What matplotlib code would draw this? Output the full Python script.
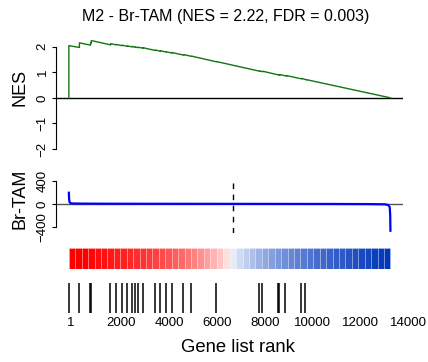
import numpy as np
import matplotlib.pyplot as plt
from matplotlib.colors import LinearSegmentedColormap, Normalize
from matplotlib.transforms import ScaledTranslation

plt.rcParams['font.family'] = ['Liberation Sans', 'DejaVu Sans']

title = 'M2 - Br-TAM (NES = 2.22, FDR = 0.003)'
n_genes = 13389
zero_cross = 6840

# ranks of the gene-set members in the ranked list
hit_ranks = [1, 440, 905, 935, 1743, 1964, 2215, 2444, 2633, 2758, 2884, 3093, 3606,
             3815, 4053, 4304, 4784, 5118, 6142, 7950, 8075, 8760, 8790, 9065, 9704, 9901]
# running NES just before and just after each hit
es_before = [0.00, 1.97, 2.06, 2.145, 2.07, 2.07, 2.04, 2.01, 1.99, 1.98, 1.96, 1.94, 1.85,
             1.82, 1.79, 1.75, 1.67, 1.62, 1.41, 1.04, 1.02, 0.89, 0.895, 0.85, 0.74, 0.70]
es_after = [2.04, 2.15, 2.15, 2.24, 2.12, 2.09, 2.06, 2.03, 2.01, 1.99, 1.98, 1.96, 1.87,
            1.84, 1.80, 1.77, 1.69, 1.63, 1.42, 1.05, 1.04, 0.90, 0.91, 0.87, 0.76, 0.71]

# ranking metric along the list
metric_rank = [1, 10, 30, 80, 200, 600, 1500, 3000, 5000, 6840, 9000, 11000, 12500,
               13150, 13300, 13360, 13380, 13389]
metric_value = [195, 90, 30, 10, 6, 4, 2.5, 1.5, 0.5, 0, -1, -2, -4, -8, -20, -60, -200, -470]

# colour strip levels (+1 = strongly up, -1 = strongly down)
strip_level = [1.0, 1.0, 1.0, 0.97, 0.95, 0.93, 0.90, 0.88, 0.86, 0.84, 0.82, 0.80, 0.77,
               0.74, 0.71, 0.67, 0.63, 0.59, 0.54, 0.49, 0.43, 0.37, 0.30, 0.22, 0.13,
               -0.10, -0.18, -0.25, -0.32, -0.38, -0.43, -0.48, -0.52, -0.56, -0.60, -0.63,
               -0.66, -0.69, -0.72, -0.75, -0.78, -0.80, -0.82, -0.85, -0.87, -0.90, -0.92,
               -0.95, -0.97, -1.0]

rank_ticks = [1, 2000, 4000, 6000, 8000, 10000, 12000, 14000]
nes_ticks = [-2, -1, 0, 1, 2]
metric_ticks = [-400, 0, 400]

W, H = 428, 362


def rect(x0, x1, top, bot):
    return [x0 / W, 1 - bot / H, (x1 - x0) / W, (bot - top) / H]


fig = plt.figure(figsize=(W / 100, H / 100), dpi=100)
ax_es = fig.add_axes(rect(56, 403.3, 36.0, 153.1))
ax_m = fig.add_axes(rect(56, 403.3, 178.3, 233.3))
ax_s = fig.add_axes(rect(56, 403.3, 248.3, 269.3))
ax_r = fig.add_axes(rect(56, 403.3, 283.3, 313.3))

pad = 0.04 * (n_genes - 1)
xlim = (1 - pad, n_genes + pad)
for ax in (ax_es, ax_m, ax_s, ax_r):
    ax.set_xlim(*xlim)
    for side in ('top', 'right', 'bottom'):
        ax.spines[side].set_visible(False)
    ax.tick_params(axis='x', length=0)

# running enrichment curve
xs, ys = [], []
for r, b, a in zip(hit_ranks, es_before, es_after):
    xs += [r, r]
    ys += [b, a]
xs.append(n_genes)
ys.append(0)
ax_es.axhline(0, color='black', lw=1.0)
ax_es.plot(xs, ys, color='#137513', lw=1.0)
ax_es.set_ylim(-2.16, 2.418)
ax_es.set_yticks(nes_ticks)
ax_es.spines['left'].set_bounds(-2, 2)
ax_es.set_xticks([])
ax_es.set_ylabel('NES', fontsize=13, va='center')
ax_es.yaxis.set_label_coords(-0.104, 0.56)

# ranking metric
ax_m.axhline(0, color='#555555', lw=1.0)
ax_m.plot(metric_rank, metric_value, color='#0000ff', lw=1.6)
ax_m.axvline(zero_cross, color='black', lw=1.0, ls=(0, (4, 4)))
ax_m.set_ylim(-515, 447)
ax_m.set_yticks(metric_ticks)
ax_m.spines['left'].set_bounds(-400, 400)
ax_m.set_xticks([])
ax_m.set_ylabel('Br-TAM', fontsize=13, va='center')
ax_m.yaxis.set_label_coords(-0.104, 0.636)

for ax in (ax_es, ax_m):
    ax.tick_params(axis='y', length=3.2, width=0.8, labelsize=9.5, pad=2, labelrotation=90)
    for lab in ax.get_yticklabels():
        lab.set_va('center')

# colour strip, light seams between the cells
cmap = LinearSegmentedColormap.from_list('rb', ['#0036bb', 'white', '#ff0000'])
norm = Normalize(-1, 1)
bin_w = n_genes / len(strip_level)
centers = [(i + 0.5) * bin_w for i in range(len(strip_level))]
ax_s.bar(centers, 1, width=bin_w, bottom=0, color=cmap(norm(strip_level)),
         edgecolor=(1, 1, 1, 0.3), lw=0.5)
ax_s.set_ylim(0, 1)
ax_s.axis('off')

# hit positions
ax_r.vlines(hit_ranks, 0, 1, color='black', lw=1.1)
ax_r.set_ylim(0, 1)
ax_r.spines['left'].set_visible(False)
ax_r.set_yticks([])
ax_r.set_xticks(rank_ticks)
ax_r.set_xticklabels([str(t) for t in rank_ticks])
ax_r.tick_params(axis='x', labelsize=9.5, pad=2.5)
for i, lab in enumerate(ax_r.get_xticklabels()):
    dx = 1.5 if i == 0 else 5.0
    lab.set_transform(lab.get_transform() + ScaledTranslation(dx / 100, 0, fig.dpi_scale_trans))
ax_r.set_xlabel('Gene list rank', fontsize=13.3)
ax_r.xaxis.label.set_va('center')
ax_r.xaxis.set_label_coords(0.524, -1.133)

fig.text(225.5 / W, 1 - 16 / H, title, ha='center', va='center', fontsize=11.5)

fig.savefig('out.png', dpi=100)
